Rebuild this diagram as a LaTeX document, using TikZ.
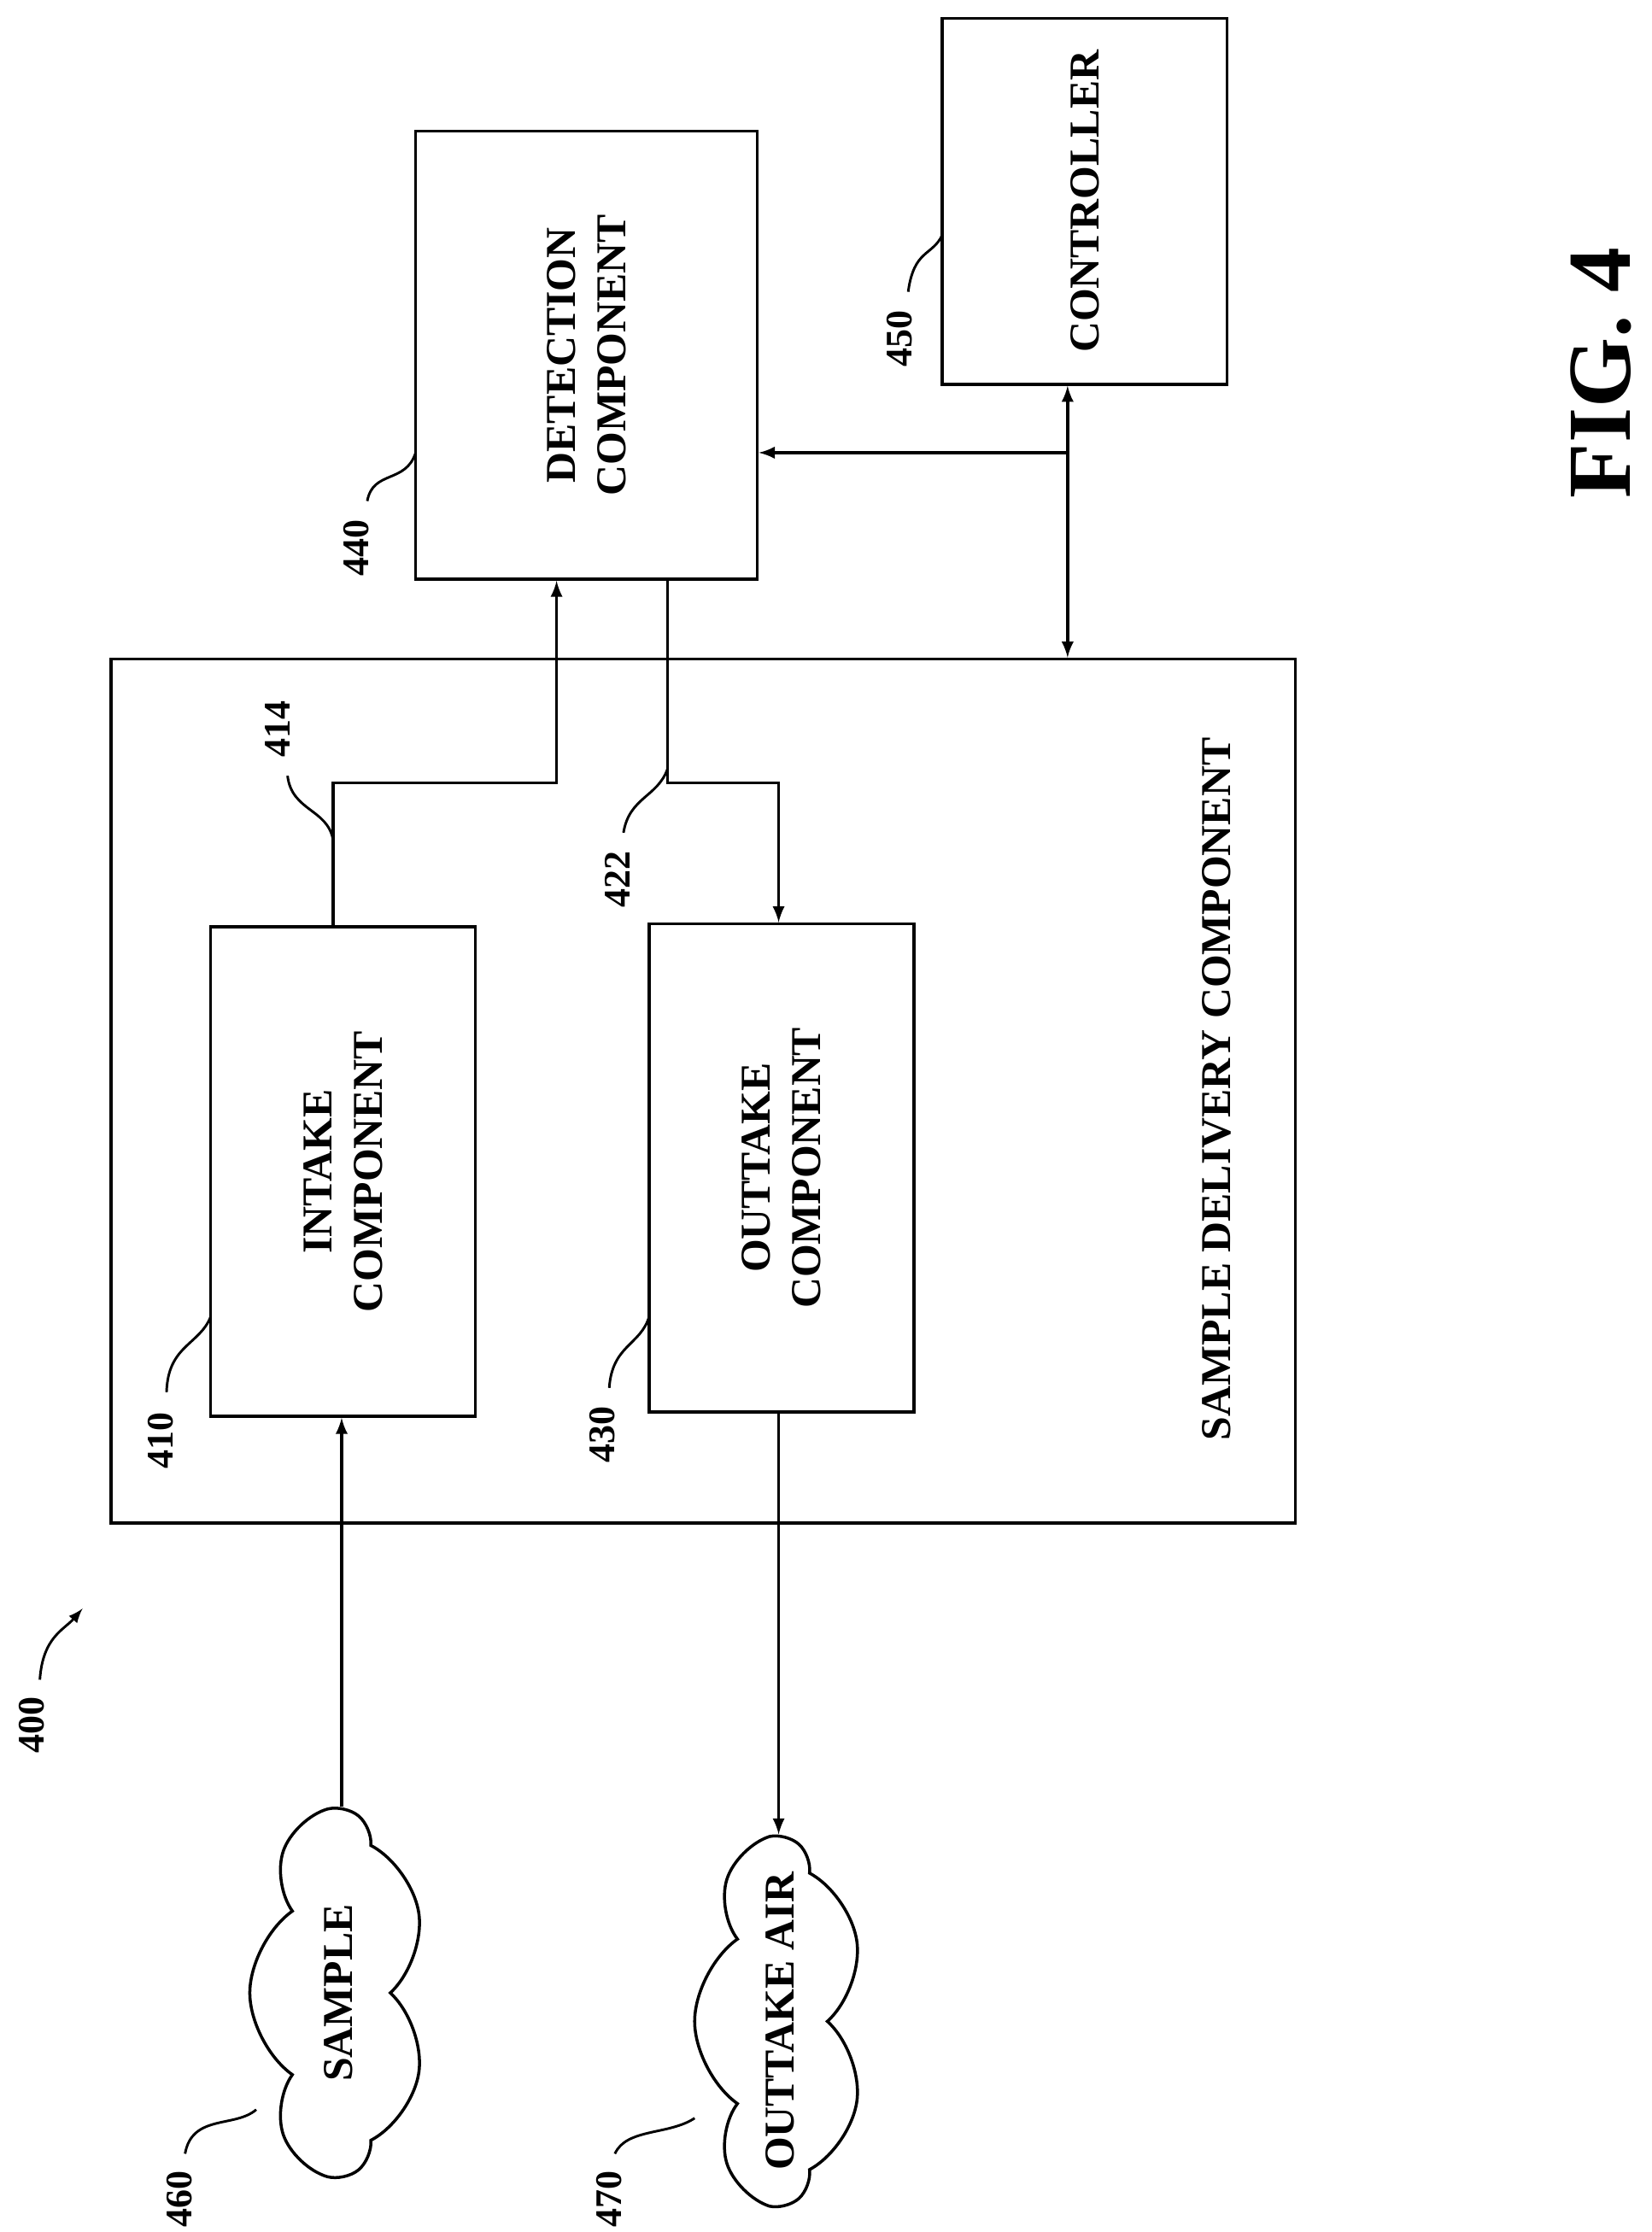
\documentclass[tikz,border=0pt]{standalone}
\usepackage{fontspec}
\setmainfont{Liberation Serif}
\usetikzlibrary{arrows,shapes.symbols}
\tikzset{
  box/.style={rectangle, draw=black, line width=1.2pt, inner sep=0pt},
  txt/.style={rotate=90, font=\bfseries\fontsize{17}{20}\selectfont, align=center},
  refnum/.style={rotate=90, font=\bfseries\fontsize{15}{18}\selectfont},
  lead/.style={line width=1pt},
  flow/.style={line width=1.2pt, ->, >=latex},
  puff/.style={cloud, cloud puffs=7, cloud puff arc=110, aspect=1.9, draw=black, line width=1.2pt, rotate=90, inner sep=0pt}
}
\begin{document}
\begin{tikzpicture}[x=0.02cm,y=-0.02cm]
  \useasboundingbox (0,0) rectangle (1160,1568);
  % boxes
  \node (det) [box, minimum width=240*0.02cm, minimum height=315*0.02cm] at (412,249.5) {};
  \node (ctl) [box, minimum width=200*0.02cm, minimum height=257*0.02cm] at (762,141.5) {};
  \node (sdc) [box, minimum width=832*0.02cm, minimum height=607*0.02cm] at (494,766.5) {};
  \node (ink) [box, minimum width=186*0.02cm, minimum height=344*0.02cm] at (241,823) {};
  \node (otk) [box, minimum width=186*0.02cm, minimum height=343*0.02cm] at (549,820.5) {};
  \node [txt] at (det) {DETECTION\\COMPONENT};
  \node [txt] at (ctl) {CONTROLLER};
  \node [txt] at (ink) {INTAKE\\COMPONENT};
  \node [txt] at (otk) {OUTTAKE\\COMPONENT};
  \node [txt] at (855,765) {SAMPLE DELIVERY COMPONENT};
  % clouds
  \node (smp) [puff, minimum width=255*0.02cm, minimum height=125*0.02cm] at (238,1400) {};
  \node [txt] at (smp) {SAMPLE};
  \node (air) [puff, minimum width=255*0.02cm, minimum height=120*0.02cm] at (548,1420) {};
  \node [txt] at (air) {OUTTAKE AIR};
  % connectors
  \coordinate (jn) at (750,318);
  \draw [flow, <->] (ctl.south -| jn) -- (sdc.north -| jn);
  \draw [flow] (jn) -- (det.east |- jn);
  \draw [flow] (ink.north -| 234,0) -- (234,550) -- (391,550) -- (det.south -| 391,0);
  \draw [flow] (det.south -| 469,0) -- (469,550) -- (547,550) -- (otk.north -| 547,0);
  \draw [flow] (smp.east -| 240,0) -- (ink.south -| 240,0);
  \draw [flow] (otk.south -| 547,0) -- (air.east -| 547,0);
  % reference numerals
  \node (n440) [refnum] at (250,385) {440};
  \draw [lead] (258,352) .. controls (262,330) and (285,340) .. (292,318);
  \node (n450) [refnum] at (632,238) {450};
  \draw [lead] (638,205) .. controls (642,175) and (655,180) .. (662,165);
  \node (n414) [refnum] at (195,512) {414};
  \draw [lead] (202,545) .. controls (205,570) and (230,568) .. (234,590);
  \node (n422) [refnum] at (434,618) {422};
  \draw [lead] (438,585) .. controls (442,560) and (462,560) .. (469,540);
  \node (n410) [refnum] at (113,1012) {410};
  \draw [lead] (117,978) .. controls (118,945) and (140,945) .. (148,925);
  \node (n430) [refnum] at (423,1008) {430};
  \draw [lead] (428,975) .. controls (430,945) and (450,945) .. (456,925);
  \node (n460) [refnum] at (126,1545) {460};
  \draw [lead] (130,1513) .. controls (135,1485) and (165,1495) .. (180,1482);
  \node (n470) [refnum] at (428,1545) {470};
  \draw [lead] (432,1513) .. controls (440,1495) and (470,1500) .. (488,1488);
  \node (n400) [refnum] at (22,1212) {400};
  \draw [lead, ->, >=latex] (28,1180) .. controls (30,1150) and (45,1145) .. (58,1130);
  \node [rotate=90, font=\bfseries\fontsize{36}{42}\selectfont] at (1125,262) {FIG. 4};
\end{tikzpicture}
\end{document}
